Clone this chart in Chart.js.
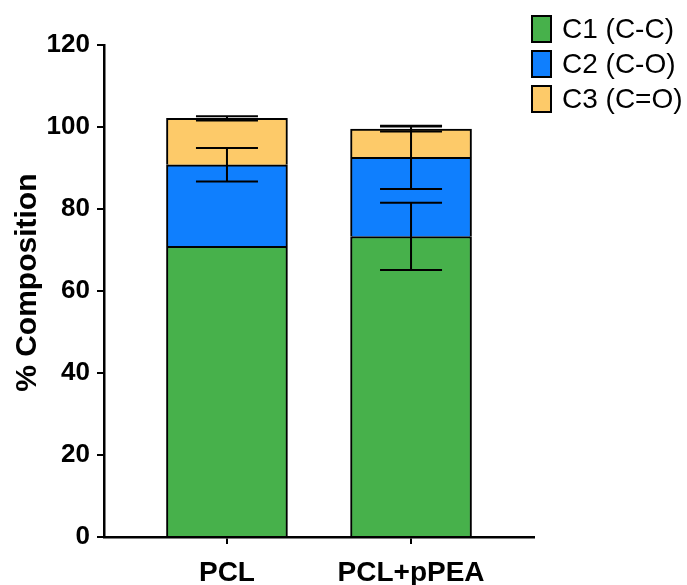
<!DOCTYPE html>
<html>
<head>
<meta charset="utf-8">
<script src="https://cdn.jsdelivr.net/npm/chart.js@4"></script>
<style>
    body { margin: 0; background: #fff; }
    .wrap { position: relative; width: 687px; height: 585px; }
    .legend { position: absolute; left: 531px; top: 15px; font-family: "Liberation Sans", Arial, sans-serif; }
    .legend-item { display: flex; align-items: center; height: 27px; margin-bottom: 8px; font-size: 28px; color: #000; }
    .legend-box { width: 17px; height: 24px; border: 2px solid #000; margin-right: 10px; }
</style>
</head>
<body>
<div class="wrap">
    <canvas id="chart" width="687" height="585"></canvas>
    <div class="legend" id="legend"></div>
</div>
<script>
// data
const categories = ["PCL", "PCL+pPEA"];
const seriesNames = ["C1 (C-C)", "C2 (C-O)", "C3 (C=O)"];
const c1Values = [70.9, 73.3];
const c2Values = [19.9, 19.3];
const c3Values = [11.3, 6.9];
const c1Errors = [0, 8.2];
const c2Errors = [4.1, 7.7];
const c3Errors = [0.5, 0.6];
const yTicks = [0, 20, 40, 60, 80, 100, 120];

const colors = ["#47b14b", "#0f7ffe", "#fdca69"];
const allValues = [c1Values, c2Values, c3Values];
const allErrors = [c1Errors, c2Errors, c3Errors];
const font = "'Liberation Sans', Arial, sans-serif";

var data = {
    datasets: allValues.map(function (vals, d) {
        return {
            label: seriesNames[d],
            backgroundColor: colors[d],
            borderColor: "#000",
            borderWidth: 2,
            barThickness: 121,
            grouped: false,
            stack: "s",
            data: vals.map(function (v, i) {
                return { x: i + 1, y: v };
            }),
        };
    }),
};

// error bars on top of each stacked segment
const errorBars = {
    id: "errorBars",
    afterDatasetsDraw: function (chart) {
        const ctx = chart.ctx;
        const y = chart.scales.y;
        ctx.save();
        ctx.strokeStyle = "#000";
        ctx.lineWidth = 2;
        allValues.forEach(function (vals, d) {
            const meta = chart.getDatasetMeta(d);
            vals.forEach(function (v, i) {
                const err = allErrors[d][i];
                if (!err) return;
                let top = 0;
                for (let k = 0; k <= d; k++) top += allValues[k][i];
                const cx = meta.data[i].x;
                const yHi = y.getPixelForValue(top + err);
                const yLo = y.getPixelForValue(top - err);
                ctx.beginPath();
                ctx.moveTo(cx, yHi);
                ctx.lineTo(cx, yLo);
                ctx.moveTo(cx - 31, yHi);
                ctx.lineTo(cx + 31, yHi);
                ctx.moveTo(cx - 31, yLo);
                ctx.lineTo(cx + 31, yLo);
                ctx.stroke();
            });
        });
        ctx.restore();
    },
};

var options = {
    responsive: false,
    animation: false,
    layout: {
        padding: { top: 45, right: 153, left: 0, bottom: 0 },
    },
    plugins: {
        legend: { display: false },
        tooltip: { enabled: false },
    },
    scales: {
        x: {
            type: "linear",
            min: 0.332,
            max: 2.668,
            offset: false,
            stacked: false,
            afterBuildTicks: function (scale) {
                scale.ticks = categories.map(function (c, i) {
                    return { value: i + 1 };
                });
            },
            afterFit: function (scale) {
                scale.height = 48;
            },
            ticks: {
                callback: function (v) {
                    return categories[v - 1];
                },
                autoSkip: false,
                maxRotation: 0,
                padding: 12,
                color: "#000",
                font: { family: font, size: 28, weight: "bold" },
            },
            grid: {
                offset: false,
                drawOnChartArea: false,
                drawTicks: true,
                tickLength: 7,
                color: "#000",
                lineWidth: 2,
            },
            border: { color: "#000", width: 2.5 },
        },
        y: {
            stacked: true,
            min: 0,
            max: 120,
            afterBuildTicks: function (scale) {
                scale.ticks = yTicks.map(function (t) {
                    return { value: t };
                });
            },
            afterFit: function (scale) {
                scale.width = 104;
            },
            ticks: {
                padding: 7,
                color: "#000",
                font: { family: font, size: 26, weight: "bold" },
            },
            grid: {
                drawOnChartArea: false,
                drawTicks: true,
                tickLength: 7,
                color: "#000",
                lineWidth: 2,
            },
            border: { color: "#000", width: 2.5 },
            title: {
                display: true,
                text: "  % Composition",
                color: "#000",
                padding: { top: 10, bottom: 0 },
                font: { family: font, size: 30, weight: "bold" },
            },
        },
    },
};

new Chart("chart", {
    type: "bar",
    data: data,
    options: options,
    plugins: [errorBars],
});

// legend
const legend = document.getElementById("legend");
legend.innerHTML = seriesNames
    .map(function (name, d) {
        return `<div class="legend-item">
            <span class="legend-box" style="background:${colors[d]}"></span>${name}
        </div>`;
    })
    .join("");
</script>
</body>
</html>
